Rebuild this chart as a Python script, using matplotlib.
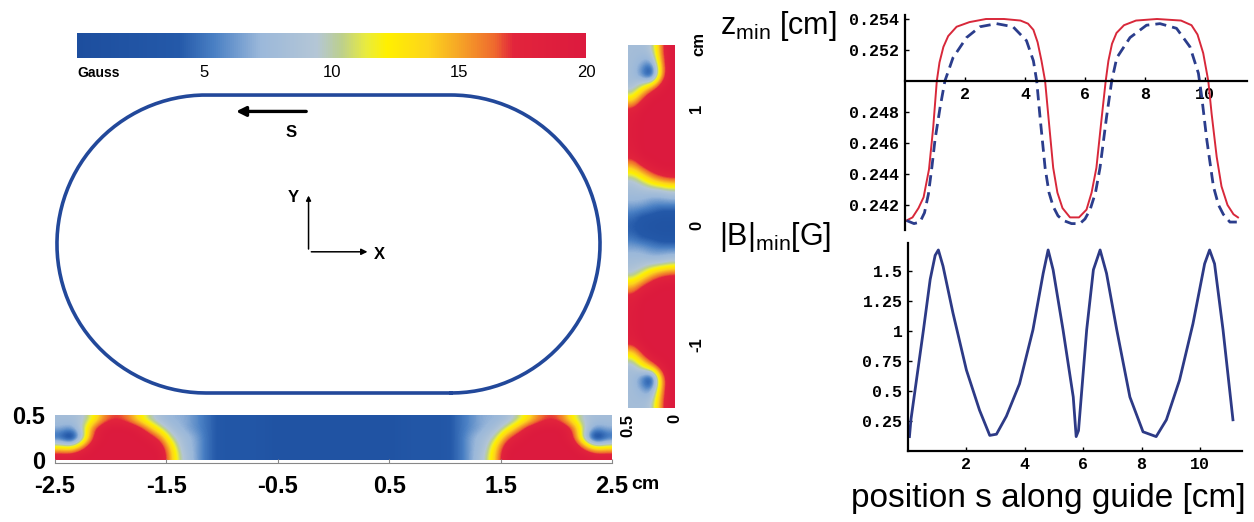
#Magnetic guide: field maps of the racetrack and the trap bottom along the guide
import numpy as np
import matplotlib
matplotlib.use("Agg")
import matplotlib.pyplot as plt
from matplotlib.colors import LinearSegmentedColormap
from matplotlib import font_manager

#field maps in Gauss
#cross section under the straight part: rows z = 0.05 ... 0.45 cm, columns x = -2.45 ... 2.45 cm
mapX = np.round(np.arange(-2.45, 2.5, 0.1), 2)
mapZ = [0.05, 0.15, 0.25, 0.35, 0.45]
bottomField = [
    [19, 19, 20, 20, 20, 20, 20, 20, 20, 20, 14, 9, 7, 5, 4, 3, 3, 3, 3, 2, 2, 2, 2, 2, 2,
     2, 2, 2, 2, 2, 2, 3, 3, 3, 3, 4, 5, 7, 9, 14, 20, 20, 20, 20, 20, 20, 20, 20, 19, 19],
    [12, 11, 16, 20, 20, 20, 20, 20, 20, 19, 13, 8, 7, 5, 4, 3, 3, 3, 3, 2, 2, 2, 2, 2, 2,
     2, 2, 2, 2, 2, 2, 3, 3, 3, 3, 4, 5, 7, 8, 13, 19, 20, 20, 20, 20, 20, 20, 16, 11, 12],
    [4, 0, 9, 18, 20, 20, 20, 20, 19, 16, 10, 8, 7, 5, 4, 3, 3, 3, 3, 2, 2, 2, 2, 2, 2,
     2, 2, 2, 2, 2, 2, 3, 3, 3, 3, 4, 5, 7, 8, 10, 16, 19, 20, 20, 20, 20, 18, 9, 0, 4],
    [7, 6, 10, 17, 20, 20, 20, 19, 15, 11, 8, 7, 6, 5, 4, 3, 3, 3, 3, 2, 2, 2, 2, 2, 2,
     2, 2, 2, 2, 2, 2, 3, 3, 3, 3, 4, 5, 6, 7, 8, 11, 15, 19, 20, 20, 20, 17, 10, 6, 7],
    [8, 8, 9, 12, 16, 17, 16, 13, 10, 8, 7, 7, 6, 5, 4, 3, 3, 3, 3, 2, 2, 2, 2, 2, 2,
     2, 2, 2, 2, 2, 2, 3, 3, 3, 3, 4, 5, 6, 7, 7, 8, 10, 13, 16, 17, 16, 12, 9, 8, 8],
]
#cross section across the guide: rows y = 1.5 ... -1.5 cm, columns z = 0.05 ... 0.45 cm
sideY = [1.5, 1.4, 1.3, 1.2, 1.1, 1.0, 0.9, 0.8, 0.7, 0.6, 0.5, 0.4, 0.3, 0.2, 0.1, 0.0,
         -0.1, -0.2, -0.3, -0.4, -0.5, -0.6, -0.7, -0.8, -0.9, -1.0, -1.1, -1.2, -1.3, -1.4, -1.5]
sideField = [
    [20, 16, 9, 8, 8], [20, 15, 6, 7, 8], [20, 14, 0, 5, 8], [20, 19, 15, 11, 8],
    [20, 20, 20, 17, 12], [20, 20, 20, 20, 18], [20, 20, 20, 20, 19], [20, 20, 20, 20, 19],
    [20, 20, 20, 20, 19], [20, 20, 20, 20, 18], [20, 20, 19, 17, 14], [17, 16, 14, 11, 9],
    [9, 8, 8, 8, 8], [6, 6, 6, 7, 7], [3, 3, 4, 4, 5], [2, 2, 2, 3, 4],
    [3, 3, 4, 4, 5], [6, 6, 6, 7, 7], [9, 8, 8, 8, 8], [17, 16, 14, 11, 9],
    [20, 20, 19, 17, 14], [20, 20, 20, 20, 18], [20, 20, 20, 20, 19], [20, 20, 20, 20, 19],
    [20, 20, 20, 20, 19], [20, 20, 20, 20, 18], [20, 20, 20, 17, 12], [20, 19, 15, 11, 8],
    [20, 14, 0, 5, 8], [20, 15, 6, 7, 8], [20, 16, 9, 8, 8],
]

#racetrack geometry (cm)
trackCenter = -0.045
trackRadius = 1.3375
trackHalfStraight = 1.10

#trap height along the guide
sRed = [0.05, 0.25, 0.45, 0.62, 0.8, 0.94, 1.06, 1.15, 1.28, 1.44, 1.72, 2.15, 2.7, 3.3, 3.85,
        4.1, 4.28, 4.42, 4.55, 4.67, 4.78, 4.94, 5.08, 5.25, 5.5, 5.8, 6.05, 6.22, 6.38, 6.56,
        6.69, 6.78, 6.9, 7.05, 7.3, 7.7, 8.4, 9.2, 9.55, 9.75, 9.94, 10.11, 10.22, 10.39,
        10.55, 10.75, 10.95, 11.1]
zRed = [0.2410, 0.2412, 0.2418, 0.2425, 0.2443, 0.2470, 0.2500, 0.2512, 0.2522, 0.2529,
        0.2535, 0.2538, 0.2540, 0.2540, 0.2539, 0.2537, 0.2533, 0.2525, 0.2513, 0.2500,
        0.2477, 0.2444, 0.2428, 0.2418, 0.2412, 0.2412, 0.2417, 0.2428, 0.2444, 0.2477,
        0.2500, 0.2513, 0.2524, 0.2531, 0.2536, 0.2539, 0.2540, 0.2539, 0.2536, 0.2530,
        0.2518, 0.2500, 0.2479, 0.2451, 0.2432, 0.2420, 0.2414, 0.2412]
sBlue = [0.05, 0.3, 0.5, 0.65, 0.78, 0.9, 1.0, 1.17, 1.33, 1.6, 2.05, 2.5, 3.05, 3.6, 4.05,
         4.28, 4.39, 4.5, 4.67, 4.8, 4.94, 5.1, 5.28, 5.55, 5.83, 6.0, 6.17, 6.35, 6.5, 6.72,
         6.89, 7.06, 7.5, 8.05, 8.5, 9.05, 9.5, 9.78, 9.89, 10.06, 10.28, 10.45, 10.61, 10.83,
         11.06]
zBlue = [0.2410, 0.2408, 0.2409, 0.2415, 0.2427, 0.2445, 0.2462, 0.2483, 0.2500, 0.2515,
         0.2528, 0.2535, 0.2537, 0.2535, 0.2526, 0.2513, 0.2500, 0.2477, 0.2444, 0.2428,
         0.2419, 0.2413, 0.2410, 0.2408, 0.2408, 0.2411, 0.2417, 0.2428, 0.2444, 0.2477,
         0.2500, 0.2515, 0.2528, 0.2536, 0.2537, 0.2534, 0.2522, 0.2505, 0.2490, 0.2462,
         0.2432, 0.2420, 0.2414, 0.2409, 0.2409]

#field at the trap bottom along the guide
sB = [0.05, 0.1, 0.53, 0.76, 0.93, 1.04, 1.2, 1.54, 2.0, 2.45, 2.8, 3.03, 3.37, 3.82, 4.28, 4.63,
      4.8, 4.97, 5.31, 5.66, 5.76, 5.84, 6.12, 6.35, 6.58, 6.8, 7.15, 7.6, 8.05, 8.5, 8.85, 9.3,
      9.76, 10.16, 10.33, 10.5, 10.79, 11.13]
Bmin = [0.12, 0.26, 1.01, 1.43, 1.63, 1.675, 1.54, 1.15, 0.675, 0.34, 0.13, 0.14, 0.29, 0.56,
        1.01, 1.48, 1.675, 1.51, 1.01, 0.45, 0.12, 0.17, 1.01, 1.51, 1.675, 1.48, 1.01, 0.45,
        0.16, 0.12, 0.26, 0.59, 1.06, 1.56, 1.675, 1.56, 1.01, 0.26]

W, H = 1254, 522
names = {f.name for f in font_manager.fontManager.ttflist}
narrow = "Liberation Sans Narrow" if "Liberation Sans Narrow" in names else "Liberation Sans"
plt.rcParams["font.family"] = "Liberation Sans"
plt.rcParams["mathtext.fontset"] = "custom"
plt.rcParams["mathtext.rm"] = "Liberation Sans"
plt.rcParams["mathtext.it"] = "Liberation Sans:italic"

gaussCmap = LinearSegmentedColormap.from_list("gauss", [
    (0.00, "#1d4e9e"), (0.20, "#2459a9"), (0.27, "#4a80c4"), (0.36, "#9bb8da"),
    (0.47, "#b4c6d6"), (0.52, "#bccf8e"), (0.57, "#eaec3c"), (0.61, "#fff000"),
    (0.69, "#fdd41c"), (0.75, "#f6a626"), (0.82, "#ef6a2e"), (0.86, "#e2243c"),
    (1.00, "#dc1a3e")])

fig = plt.figure(figsize=(W / 100, H / 100), dpi=100)

def pxAxes(x0, y0, x1, y1):
    return fig.add_axes([x0 / W, 1 - y1 / H, (x1 - x0) / W, (y1 - y0) / H])

#colour scale
cax = pxAxes(77, 33, 586, 58)
sm = plt.cm.ScalarMappable(norm=plt.Normalize(0, 20), cmap=gaussCmap)
cbar = fig.colorbar(sm, cax=cax, orientation="horizontal")
cbar.outline.set_visible(False)
cbar.set_ticks([5, 10, 15, 20])
cax.tick_params(length=0, labelsize=12, pad=5)
cax.text(0.0, -0.62, "Gauss", transform=cax.transAxes, ha="left", va="center",
         fontsize=10, fontweight="bold")

#racetrack outline
axT = pxAxes(55, 62, 612, 412)
axT.set_xlim(-2.5, 2.5)
axT.set_ylim(-(412 - 244) / 111.4, (244 - 62) / 111.4)
axT.axis("off")
t = np.linspace(-np.pi / 2, np.pi / 2, 120)
xs = np.concatenate([trackCenter + trackHalfStraight + trackRadius * np.cos(t),
                     trackCenter - trackHalfStraight - trackRadius * np.cos(t)])
ys = np.concatenate([trackRadius * np.sin(t), -trackRadius * np.sin(t)])
axT.plot(np.append(xs, xs[0]), np.append(ys, ys[0]), color="#22489a", lw=2.6)
axT.annotate("", xy=(-0.90, 1.19), xytext=(-0.22, 1.19),
             arrowprops=dict(arrowstyle="-|>", color="black", lw=2.4, mutation_scale=14))
axT.text(-0.38, 1.00, "S", fontsize=12, fontweight="bold", ha="center", va="center")
axT.annotate("", xy=(-0.224, 0.46), xytext=(-0.224, -0.07),
             arrowprops=dict(arrowstyle="-|>", color="black", lw=1.1, mutation_scale=7))
axT.annotate("", xy=(0.33, -0.07), xytext=(-0.224, -0.07),
             arrowprops=dict(arrowstyle="-|>", color="black", lw=1.1, mutation_scale=9))
axT.text(-0.36, 0.42, "Y", fontsize=12, fontweight="bold", ha="center", va="center")
axT.text(0.41, -0.09, "X", fontsize=12, fontweight="bold", ha="center", va="center")

tickFont = dict(fontfamily=narrow, fontweight="bold")

#field map under the straight part
axM = pxAxes(55, 415, 612, 460)
axM.imshow(np.array(bottomField), extent=(mapX[0] - 0.05, mapX[-1] + 0.05, 0, 0.5),
           origin="lower", aspect="auto", cmap=gaussCmap, vmin=0, vmax=20,
           interpolation="bicubic", interpolation_stage="data")
axM.set_xlim(-2.5, 2.5)
axM.set_ylim(0, 0.5)
for side in ["top", "right", "left"]:
    axM.spines[side].set_visible(False)
axM.spines["bottom"].set_position(("outward", 2))
axM.spines["bottom"].set_color("#888888")
axM.spines["bottom"].set_linewidth(0.8)
axM.set_xticks([-2.5, -1.5, -0.5, 0.5, 1.5, 2.5], ["-2.5", "-1.5", "-0.5", "0.5", "1.5", "2.5"],
               fontsize=17, **tickFont)
axM.set_yticks([0, 0.5], ["0", "0.5"], fontsize=17, **tickFont)
axM.tick_params(axis="x", direction="in", length=3, color="#888888", pad=9)
axM.tick_params(axis="y", length=0, pad=7)
axM.text(2.80, -0.27, "cm", fontsize=14, ha="center", va="center", **tickFont)

#field map across the guide
axV = pxAxes(628, 45, 675, 408)
axV.imshow(np.array(sideField), extent=(0, 0.5, -1.55, 1.55), origin="upper", aspect="auto",
           cmap=gaussCmap, vmin=0, vmax=20, interpolation="bicubic", interpolation_stage="data")
axV.set_xlim(0.5, 0)
axV.set_ylim(-1.55, 1.55)
for side in axV.spines:
    axV.spines[side].set_visible(False)
axV.yaxis.tick_right()
axV.set_yticks([-1, 0, 1], ["-1", "0", "1"], fontsize=12, **tickFont)
axV.set_xticks([0.5, 0], ["0.5", "0"], fontsize=12, **tickFont)
axV.tick_params(axis="y", length=0, pad=10, labelrotation=90)
axV.tick_params(axis="x", length=0, pad=4, labelrotation=90)
axV.text(1.5, 1.56, "cm", transform=axV.get_yaxis_transform(), rotation=90, fontsize=12,
         ha="center", va="center", **tickFont)

monoFont = dict(fontfamily="Liberation Mono", fontweight="bold", fontsize=12)

#trap height
axZ = pxAxes(905, 15, 1247, 230)
axZ.plot(sRed, zRed, color="#d8283a", lw=1.4)
axZ.plot(sBlue, zBlue, color="#2b3d8c", lw=2.0, dashes=(4, 2.2))
axZ.set_xlim(0, 11.4)
axZ.set_ylim(0.25 - (230 - 81) / 15500, 0.25 + (81 - 15) / 15500)
axZ.spines["top"].set_visible(False)
axZ.spines["right"].set_visible(False)
axZ.spines["bottom"].set_position(("data", 0.25))
for side in ["left", "bottom"]:
    axZ.spines[side].set_linewidth(1.6)
axZ.set_xticks([2, 4, 6, 8, 10], ["2", "4", "6", "8", "10"], **monoFont)
axZ.set_yticks([0.242, 0.244, 0.246, 0.248, 0.252, 0.254],
               ["0.242", "0.244", "0.246", "0.248", "0.252", "0.254"], **monoFont)
axZ.tick_params(direction="in", length=3, width=1, pad=4)

#field at the trap bottom
axB = pxAxes(908, 243, 1242, 451)
axB.plot(sB, Bmin, color="#2d3a86", lw=2.0)
axB.set_xlim(0, 11.44)
axB.set_ylim(0, 1.733)
axB.spines["top"].set_visible(False)
axB.spines["right"].set_visible(False)
for side in ["left", "bottom"]:
    axB.spines[side].set_linewidth(1.6)
axB.set_xticks([2, 4, 6, 8, 10], ["2", "4", "6", "8", "10"], **monoFont)
axB.set_yticks([0.25, 0.5, 0.75, 1, 1.25, 1.5], ["0.25", "0.5", "0.75", "1", "1.25", "1.5"],
               **monoFont)
axB.tick_params(direction="in", length=3, width=1, pad=4)

fig.text(778 / W, 1 - 26 / H, r"z$_{\mathrm{min}}$ [cm]", fontsize=22, ha="center", va="center")
fig.text(775 / W, 1 - 237 / H, r"|B|$_{\mathrm{min}}$[G]", fontsize=22, ha="center", va="center")
fig.text(1048 / W, 1 - 499 / H, "position s along guide [cm]", fontsize=24, ha="center",
         va="center")

fig.savefig("out.png", dpi=100)
